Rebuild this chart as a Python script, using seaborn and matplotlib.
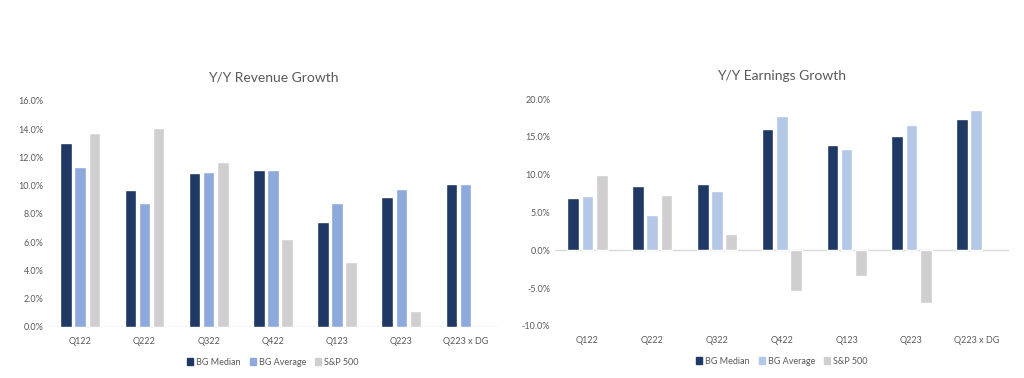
import matplotlib
matplotlib.use('Agg')
import matplotlib.pyplot as plt
import numpy as np
import pandas as pd
import seaborn as sns

# data
quarters = ['Q122', 'Q222', 'Q322', 'Q422', 'Q123', 'Q223', 'Q223 x DG']
series = ['BG Median', 'BG Average', 'S&P 500']

rev_median = [13.0, 9.7, 10.9, 11.1, 7.4, 9.2, 10.1]
rev_average = [11.3, 8.8, 11.0, 11.1, 8.8, 9.8, 10.1]
rev_sp500 = [13.7, 14.1, 11.7, 6.2, 4.6, 1.1, np.nan]

earn_median = [6.9, 8.5, 8.7, 16.0, 13.9, 15.1, 17.3]
earn_average = [7.2, 4.6, 7.8, 17.8, 13.4, 16.5, 18.6]
earn_sp500 = [9.9, 7.3, 2.2, -5.4, -3.4, -7.0, np.nan]

rev_colors = ['#1F3864', '#8EA9DB', '#D0CECE']
earn_colors = ['#1F3864', '#B4C7E7', '#D0CECE']

text_color = '#595959'
axis_line = '#D9D9D9'


def to_long(med, avg, sp):
    rows = []
    for name, vals in zip(series, [med, avg, sp]):
        for q, v in zip(quarters, vals):
            rows.append({'quarter': q, 'series': name, 'value': v})
    return pd.DataFrame(rows)


def draw(ax, df, colors, title, ylim, yticks):
    sns.barplot(data=df, x='quarter', y='value', hue='series', order=quarters,
                hue_order=series, palette=colors, width=0.66, gap=0.18,
                saturation=1, ax=ax, errorbar=None)
    ax.set_xlim(-0.5, 6.5)
    ax.set_ylim(*ylim)
    ax.set_yticks(yticks)
    ax.set_yticklabels(['{:.1f}%'.format(t) for t in yticks])
    ax.set_xlabel('')
    ax.set_ylabel('')
    ax.set_title(title, fontsize=10, color=text_color, pad=14)
    for s in ['top', 'right', 'left', 'bottom']:
        ax.spines[s].set_visible(False)
    ax.axhline(0, color=axis_line, lw=1, zorder=0)
    ax.tick_params(axis='both', length=0, labelsize=6.5, labelcolor=text_color)
    ax.tick_params(axis='x', pad=7)
    ax.grid(False)
    ax.legend_.remove()
    handles = [plt.Rectangle((0, 0), 1, 1, color=c) for c in colors]
    ax.legend(handles, series, loc='upper center', bbox_to_anchor=(0.5, -0.10),
              ncol=3, frameon=False, fontsize=6.5, labelcolor=text_color,
              handlelength=0.7, handleheight=0.7, handletextpad=0.3,
              columnspacing=1.0)


sns.set_theme(style='white')
plt.rcParams['font.family'] = ['Lato', 'DejaVu Sans']

fig = plt.figure(figsize=(10.24, 3.78), dpi=100)
ax1 = fig.add_axes([0.047, 0.135, 0.439, 0.598])
ax2 = fig.add_axes([0.542, 0.138, 0.443, 0.600])

draw(ax1, to_long(rev_median, rev_average, rev_sp500), rev_colors,
     'Y/Y Revenue Growth', (0, 16), np.arange(0, 16.1, 2))
draw(ax2, to_long(earn_median, earn_average, earn_sp500), earn_colors,
     'Y/Y Earnings Growth', (-10, 20), np.arange(-10, 20.1, 5))

fig.savefig('out.png', dpi=100)
